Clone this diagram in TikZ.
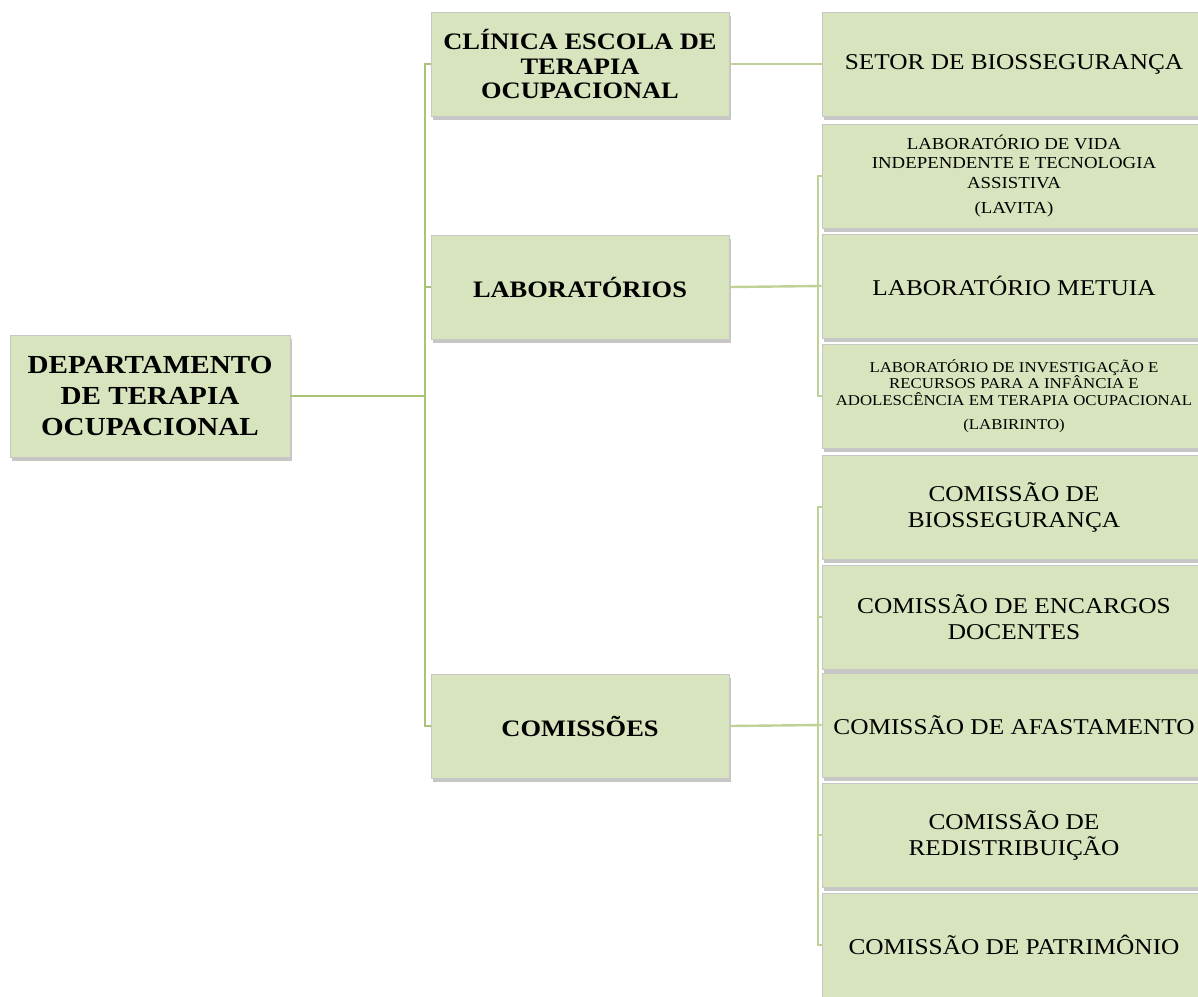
\documentclass[tikz,border=0pt]{standalone}
\usepackage{fontspec}
\setmainfont{Liberation Serif}[FakeStretch=1.12]
\usetikzlibrary{shadows}
\definecolor{verdecaixa}{RGB}{215,228,189}
\definecolor{verdelinha}{RGB}{168,196,116}
\definecolor{verdeclaro}{RGB}{190,210,150}
\begin{document}
\begin{tikzpicture}[x=0.5pt,y=0.5pt]
\tikzstyle{every node}+=[inner sep=0pt]
\tikzstyle{caixa}=[draw=black!22, fill=verdecaixa, align=center, drop shadow={shadow xshift=1pt, shadow yshift=-1.8pt, fill=black!50, opacity=0.45}]
\tikzstyle{grande}=[caixa, minimum width=149pt, minimum height=52pt, font=\bfseries\fontsize{11.8}{12.2}\selectfont]
\tikzstyle{sub}=[caixa, minimum width=192pt, minimum height=52pt, font=\fontsize{11.3}{13}\selectfont]
\tikzstyle{ligacao}=[draw=verdelinha, line width=1.3pt]
\tikzstyle{ramo}=[draw=verdeclaro, line width=1.2pt]
\useasboundingbox (0,0) rectangle (1198,-996);
% primeira coluna
\node [caixa, minimum width=140pt, minimum height=61pt, font=\bfseries\fontsize{13}{15.5}\selectfont] (dept) at (150,-396) {DEPARTAMENTO\\DE TERAPIA\\OCUPACIONAL};
% segunda coluna
\node [grande] (clinica) at (580,-64) {CLÍNICA ESCOLA DE\\TERAPIA\\OCUPACIONAL};
\node [grande] (labs) at (580,-287) {LABORATÓRIOS};
\node [grande] (comissoes) at (580,-726) {COMISSÕES};
% terceira coluna
\node [sub] (setor) at (1014,-64) {SETOR DE BIOSSEGURANÇA};
\node [sub, font=\fontsize{8.4}{9.6}\selectfont] (lavita) at (1014,-176) {LABORATÓRIO DE VIDA\\INDEPENDENTE E TECNOLOGIA\\ASSISTIVA\\[3pt](LAVITA)};
\node [sub] (metuia) at (1014,-286) {LABORATÓRIO METUIA};
\node [sub, font=\fontsize{7.5}{8.2}\selectfont] (labirinto) at (1014,-396) {LABORATÓRIO DE INVESTIGAÇÃO E\\RECURSOS PARA A INFÂNCIA E\\ADOLESCÊNCIA EM TERAPIA OCUPACIONAL\\[4pt](LABIRINTO)};
\node [sub] (cbio) at (1014,-507) {COMISSÃO DE\\BIOSSEGURANÇA};
\node [sub] (cenc) at (1014,-617) {COMISSÃO DE ENCARGOS\\DOCENTES};
\node [sub] (cafast) at (1014,-725) {COMISSÃO DE AFASTAMENTO};
\node [sub] (credist) at (1014,-835) {COMISSÃO DE\\REDISTRIBUIÇÃO};
\node [sub] (cpatr) at (1014,-945) {COMISSÃO DE PATRIMÔNIO};
% ligacoes
\coordinate (tronco) at (425,-64);
\coordinate (ramolabs) at (818,-176);
\coordinate (ramocom) at (818,-507);
\draw [ligacao] (clinica.west) -- (clinica.west -| tronco) |- (comissoes.west);
\draw [ligacao] (dept.east) -- (dept.east -| tronco);
\draw [ligacao] (labs.west) -- (labs.west -| tronco);
\draw [ramo] (clinica.east) -- (setor.west);
\draw [ramo] (lavita.west) -- (lavita.west -| ramolabs) |- (labirinto.west);
\draw [ramo] (labs.east) -- (metuia.west);
\draw [ramo] (cbio.west) -- (cbio.west -| ramocom) |- (cpatr.west);
\draw [ramo] (cenc.west) -- (cenc.west -| ramocom);
\draw [ramo] (comissoes.east) -- (cafast.west);
\draw [ramo] (credist.west) -- (credist.west -| ramocom);
\end{tikzpicture}
\end{document}
